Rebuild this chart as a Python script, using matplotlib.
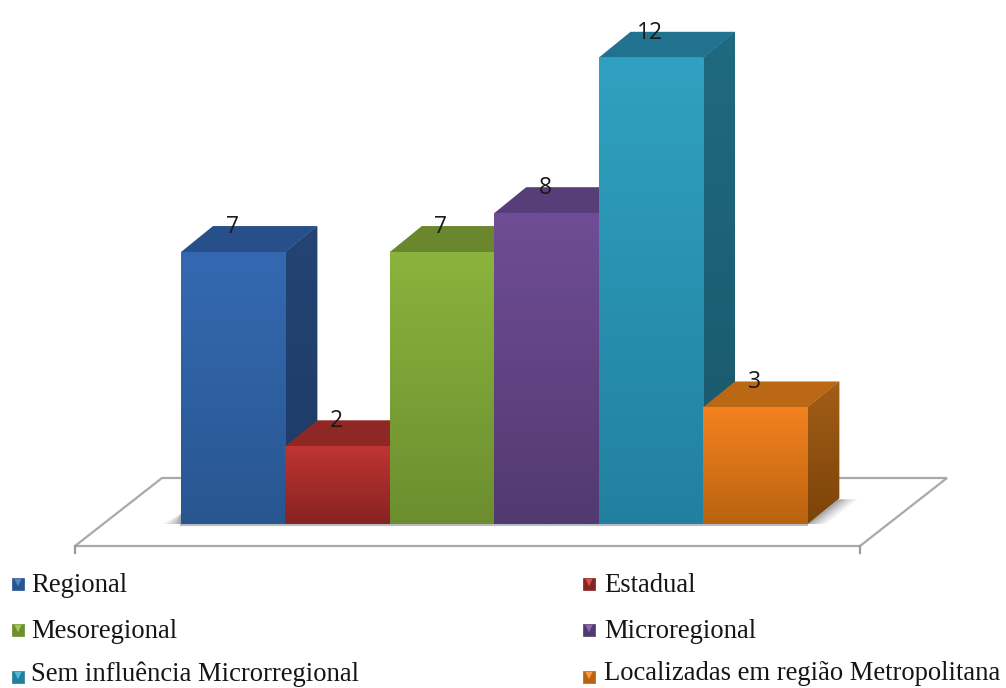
import numpy as np
import matplotlib
matplotlib.use("Agg")
import matplotlib.pyplot as plt
from matplotlib.colors import to_rgb
from matplotlib.patches import Polygon

categories = ["Regional", "Estadual", "Mesoregional", "Microregional",
              "Sem influência Microrregional", "Localizadas em região Metropolitana"]
values = [7, 2, 7, 8, 12, 3]

front_top = ["#3469b2", "#be3533", "#8bb33d", "#704d96", "#30a1c1", "#f5821f"]
front_bottom = ["#285690", "#872322", "#6c8e2f", "#523970", "#22809f", "#b9630f"]
side_top = ["#234475", "#7d2221", "#5d7a29", "#4a3368", "#1f6a80", "#a35e18"]
side_bottom = ["#1d3a63", "#6a1c1b", "#4e6822", "#3d2a55", "#1a566a", "#7c4309"]
roof_colors = ["#27508a", "#8f2725", "#6a872e", "#573e78", "#20728f", "#bb6814"]
swatch_light = ["#4f86c6", "#d2504d", "#a3c655", "#8a68ad", "#4fbad6", "#f79a45"]

W, H = 1006, 688
BAR_PX = 104.4
UNIT_PX = 38.85
X0_PX, Y0_PX = 181, 524

fig = plt.figure(figsize=(W / 100, H / 100), dpi=100, facecolor="white")
ax = fig.add_axes([0, 0, 1, 1])
ax.axis("off")


def sx(px):
    return (px - X0_PX) / BAR_PX


def sy(px):
    return (Y0_PX - px) / UNIT_PX


DX = 32 / BAR_PX
DY = 26 / UNIT_PX


def gradient_fill(patch, c_top, c_bottom, y_top, y_bottom, x_left, x_right, z):
    """Paint a vertical colour ramp, clipped to the given patch."""
    ramp = np.linspace(0, 1, 128)[:, None, None]
    img = (1 - ramp) * np.array(to_rgb(c_top)) + ramp * np.array(to_rgb(c_bottom))
    im = ax.imshow(img, extent=(x_left, x_right, y_bottom, y_top),
                   aspect="auto", zorder=z, interpolation="bilinear")
    im.set_clip_path(patch)


# Floor of the chart, with its small tick marks at the front corners
floor = [(sx(75), sy(546)), (sx(860), sy(546)), (sx(947), sy(478)), (sx(162), sy(478))]
ax.add_patch(Polygon(floor, closed=True, facecolor="white", edgecolor="#a9a9a9", lw=1.6, zorder=1))
for corner in (75, 860):
    ax.plot([sx(corner), sx(corner)], [sy(546), sy(553)], color="#9a9a9a", lw=1.6, zorder=1)

# Soft ground shadow around the base of the columns
n = len(values)
for grow, alpha in zip((18, 14, 10, 6, 3), (0.10, 0.12, 0.16, 0.20, 0.24)):
    g = grow / BAR_PX
    base = [(-g, 0), (0, DY * 0.4), (n + DX, DY * 0.95),
            (n + DX + g, DY * 0.95), (n + g, 0)]
    ax.add_patch(Polygon(base, closed=True, facecolor="#6f7478", edgecolor="none",
                         alpha=alpha, zorder=1.5))
ax.plot([0, n], [-0.03, -0.03], color="#b8bcc0", lw=1.5, zorder=1.6)

# Columns, left to right so each one overlaps the side of the previous one
for i, v in enumerate(values):
    z = 2 + i * 0.1
    side = Polygon([(i + 1, 0), (i + 1 + DX, DY), (i + 1 + DX, v + DY), (i + 1, v)],
                   closed=True, facecolor=side_top[i], edgecolor="none", zorder=z)
    ax.add_patch(side)
    gradient_fill(side, side_top[i], side_bottom[i], v + DY, 0, i + 1, i + 1 + DX, z)

    roof = Polygon([(i, v), (i + DX, v + DY), (i + 1 + DX, v + DY), (i + 1, v)],
                   closed=True, facecolor=roof_colors[i], edgecolor="none", zorder=z + 0.01)
    ax.add_patch(roof)

    bar = ax.bar(i, v, width=1, align="edge", color=front_top[i], zorder=z + 0.02)[0]
    gradient_fill(bar, front_top[i], front_bottom[i], v, 0, i, i + 1, z + 0.02)

    ax.text(i + 0.49, v + 25 / UNIT_PX, str(v), ha="center", va="center",
            fontsize=16.5, family="Open Sans", color="#1a1a1a", zorder=5)

# Legend laid out in two columns
legend_x = [12, 583]
swatch_y = [584, 630, 677]
label_y = [585, 631, 674]
for i, (label, c_bot, c_light) in enumerate(zip(categories, front_bottom, swatch_light)):
    lx = legend_x[i % 2]
    row = i // 2
    ax.scatter([sx(lx + 6)], [sy(swatch_y[row])], marker="s", s=80, color=c_bot,
               edgecolors=c_bot, linewidths=0.5, zorder=5)
    ax.scatter([sx(lx + 6)], [sy(swatch_y[row] - 1.5)], marker="v", s=30, color=c_light,
               edgecolors="none", zorder=6)
    ax.text(sx(lx + 19 if i % 2 == 0 else lx + 21), sy(label_y[row]), label, ha="left", va="center",
            family="Liberation Serif", fontsize=19.2, color="#151515", zorder=5)

ax.set_xlim(sx(0), sx(W))
ax.set_ylim(sy(H), sy(0))
fig.savefig("out.png", dpi=100, facecolor="white")
